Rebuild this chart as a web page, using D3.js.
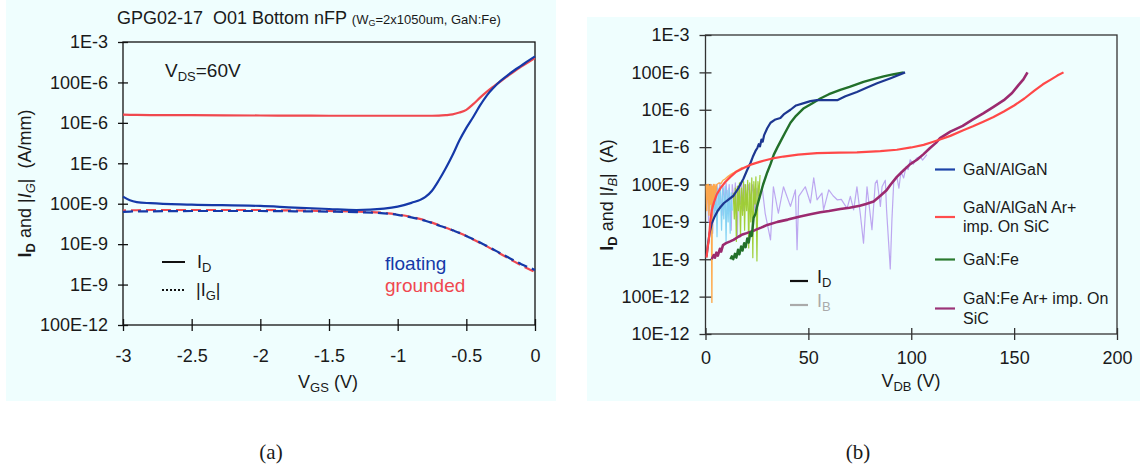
<!DOCTYPE html>
<html>
<head>
<meta charset="utf-8">
<script src="https://cdn.jsdelivr.net/npm/d3@7"></script>
<style>
  body { margin: 0; background: #ffffff; }
  svg text { font-family: "Liberation Sans", Arial, Helvetica, sans-serif; fill: #1a1a1a; }
</style>
</head>
<body>
<svg id="fig" width="1144" height="470"></svg>
<script>
// ---------------- Panel (a): transfer curves, VDS = 60 V ----------------
const vgs = [-3, -2.95, -2.9, -2.8, -2.5, -2.0, -1.75, -1.5, -1.3, -1.1, -1.0, -0.9, -0.8, -0.75, -0.7,
             -0.65, -0.6, -0.55, -0.5, -0.45, -0.4, -0.35, -0.3, -0.25, -0.2, -0.15, -0.1, -0.05, 0];
const idFloating = [1.5e-7, 1.22e-7, 1.1e-7, 1.03e-7, 9.5e-8, 8.8e-8, 8.0e-8, 7.4e-8, 7.0e-8, 7.6e-8, 8.5e-8,
                    1.05e-7, 1.45e-7, 2.1e-7, 3.8e-7, 7.5e-7, 1.6e-6, 3.7e-6, 7.5e-6, 1.4e-5, 2.7e-5, 4.8e-5,
                    7.5e-5, 1.1e-4, 1.5e-4, 2.0e-4, 2.6e-4, 3.4e-4, 4.4e-4];
const idGrounded = [1.6e-5, 1.58e-5, 1.57e-5, 1.56e-5, 1.55e-5, 1.52e-5, 1.51e-5, 1.5e-5, 1.5e-5, 1.5e-5, 1.5e-5,
                    1.5e-5, 1.5e-5, 1.5e-5, 1.51e-5, 1.55e-5, 1.62e-5, 1.8e-5, 2.1e-5, 2.9e-5, 4.2e-5, 5.9e-5,
                    8.0e-5, 1.07e-4, 1.42e-4, 1.88e-4, 2.45e-4, 3.15e-4, 4.0e-4];
const igFloating = [6.3e-8, 6.4e-8, 6.5e-8, 6.5e-8, 6.6e-8, 6.6e-8, 6.5e-8, 6.4e-8, 6.2e-8, 5.8e-8, 5.3e-8,
                    4.6e-8, 3.8e-8, 3.35e-8, 2.9e-8, 2.55e-8, 2.2e-8, 1.9e-8, 1.6e-8, 1.33e-8, 1.1e-8, 9.0e-9,
                    7.3e-9, 5.9e-9, 4.8e-9, 3.9e-9, 3.2e-9, 2.7e-9, 2.3e-9];
const igGrounded = [6.8e-8, 6.9e-8, 6.9e-8, 7.0e-8, 7.0e-8, 7.0e-8, 6.8e-8, 6.6e-8, 6.4e-8, 5.9e-8, 5.4e-8,
                    4.7e-8, 3.9e-8, 3.4e-8, 2.95e-8, 2.55e-8, 2.2e-8, 1.88e-8, 1.58e-8, 1.3e-8, 1.07e-8, 8.8e-9,
                    7.1e-9, 5.7e-9, 4.6e-9, 3.7e-9, 3.0e-9, 2.45e-9, 2.05e-9];
const aXTicks = [-3, -2.5, -2, -1.5, -1, -0.5, 0];
const aXLabels = ["-3", "-2.5", "-2", "-1.5", "-1", "-0.5", "0"];
const aYTicks = [1e-10, 1e-9, 1e-8, 1e-7, 1e-6, 1e-5, 1e-4, 1e-3];
const aYLabels = ["100E-12", "1E-9", "10E-9", "100E-9", "1E-6", "10E-6", "100E-6", "1E-3"];

// ---------------- Panel (b): off-state drain/buffer currents vs VDB ----------------
// [VDB (V), current (A)]
const idAlGaN = [[0.5,1.2e-9],[1.2,2.5e-9],[2.0,5e-9],[3.0,9e-9],[4.5,1.4e-8],[6,2e-8],[7.3,2.5e-8],[9,3.2e-8],
  [11,3.9e-8],[13.6,5e-8],[16,8e-8],[18.5,1.45e-7],[20.2,2.4e-7],[21.8,3.7e-7],[23,5.5e-7],[24.3,7.9e-7],
  [25.2,9.5e-7],[25.9,1.2e-6],[26.5,1.05e-6],[27.2,1.6e-6],[27.8,1.4e-6],[28.5,2.1e-6],[30,3.2e-6],
  [31.6,4.5e-6],[34,5.5e-6],[36.4,6.0e-6],[38,7.5e-6],[41.3,1.0e-5],[44,1.3e-5],[47.8,1.5e-5],[51,1.7e-5],
  [54.2,1.8e-5],[60,1.8e-5],[64,1.8e-5],[68,2.3e-5],[73.6,3.0e-5],[78,3.8e-5],[83.4,5.1e-5],[90,7e-5],[97,1.0e-4]];
const idAlGaNImp = [[0.5,1.1e-9],[1.0,2e-9],[1.6,3.3e-9],[2.0,6e-9],[2.4,1.1e-8],[3.0,2e-8],[4.0,3.2e-8],
  [5.5,5.5e-8],[7.3,8e-8],[9.5,1.15e-7],[12.1,1.6e-7],[15,2.2e-7],[18.5,2.75e-7],[22,3.4e-7],[26.7,4.1e-7],
  [32,4.9e-7],[37.9,5.6e-7],[45,6.3e-7],[54.2,6.9e-7],[65,7.1e-7],[73.6,7.2e-7],[85,7.8e-7],[93,8.5e-7],
  [100,9.8e-7],[106,1.15e-6],[110,1.35e-6],[114,1.6e-6],[119,2.0e-6],[125,2.8e-6],[130,3.6e-6],[135,4.8e-6],
  [140,6.4e-6],[145,9e-6],[150,1.3e-5],[155,2.0e-5],[160,3.3e-5],[164,4.8e-5],[168,6.5e-5],[171,8.2e-5],[174,1.0e-4]];
const idFe = [[12.1,1.0e-9],[12.8,1.2e-9],[13.5,1.0e-9],[14.3,1.4e-9],[15,1.1e-9],[15.8,1.8e-9],[16.5,1.35e-9],
  [17.3,2.2e-9],[18,1.7e-9],[18.8,2.7e-9],[19.5,2.1e-9],[20.3,3.6e-9],[21,2.8e-9],[21.8,5.2e-9],[22.5,4.2e-9],
  [23.4,1.3e-8],[24.2,1.6e-8],[25,2.5e-8],[26.5,5e-8],[28,1.0e-7],[30,2.1e-7],[31.6,3.5e-7],[33.2,6.3e-7],
  [35,1.0e-6],[36.4,1.4e-6],[38.8,2.5e-6],[41.3,4.5e-6],[44,6.9e-6],[47.8,1.1e-5],[52,1.5e-5],[55.8,2.0e-5],
  [60,2.6e-5],[65.5,3.4e-5],[70,4.1e-5],[76.8,5.6e-5],[82,6.7e-5],[86.6,7.8e-5],[91,8.8e-5],[96.3,1.0e-4]];
const idFeImp = [[3.0,1.0e-9],[4.0,1.3e-9],[4.6,1.1e-9],[5.3,1.5e-9],[6,1.25e-9],[7,1.9e-9],[7.6,1.6e-9],
  [8.5,2.4e-9],[10,2.7e-9],[12,3.0e-9],[13.6,3.3e-9],[16,4.0e-9],[18,4.6e-9],[20,5.0e-9],[24,6.0e-9],
  [27,7.0e-9],[30,8.3e-9],[35,1.0e-8],[40,1.15e-8],[46,1.4e-8],[51,1.6e-8],[55.8,1.8e-8],[60,1.95e-8],
  [65.5,2.2e-8],[70,2.4e-8],[75,2.7e-8],[78,3.0e-8],[81.7,3.5e-8],[85,5.0e-8],[88,7.0e-8],[90,1.0e-7],
  [93,1.6e-7],[96.3,2.4e-7],[99.5,3.5e-7],[102.8,4.6e-7],[106,6.5e-7],[109,9.3e-7],[112,1.3e-6],[114,1.74e-6],
  [119,2.6e-6],[125,3.7e-6],[130,5.5e-6],[135,8e-6],[140,1.2e-5],[145,1.8e-5],[149,2.8e-5],[152,4.5e-5],
  [154.5,6.5e-5],[156.5,1.0e-4]];
const ibAlGaN = [[1.5,8e-8],[2,2e-8],[2.6,9e-8],[3.2,5e-9],[3.8,8e-8],[4.5,1.5e-8],[5,9e-8],[5.6,4e-9],
  [6.1,8e-8],[6.7,2e-8],[7.2,9e-8],[7.8,6e-9],[8.3,8e-8],[8.9,1.2e-8],[9.5,9e-8],[10,3e-9],[10.5,7e-8],
  [11,1e-8],[11.5,8e-8],[12,5e-9],[12.5,6e-8],[13,2e-8]];
const ibAlGaNImp = [[0.3,1e-7],[0.6,2e-8],[0.9,1e-7],[1.2,4e-8],[1.4,1e-7],[1.7,1.5e-8],[2.0,9e-8],[2.3,3e-8],
  [2.6,1e-7],[2.9,2.5e-8],[3.1,7e-11],[3.3,9e-8],[3.6,4e-8],[3.9,1e-7],[4.2,3e-8],[4.6,1e-7],[5.0,6e-8],
  [5.5,1.0e-7],[6.5,1.1e-7],[7.5,1.05e-7],[8.5,1.3e-7],[9.5,1.4e-7],[11,1.65e-7],[12.5,1.9e-7],[14,2.1e-7],
  [16,2.45e-7],[18,2.9e-7]];
const ibFe = [[13.5,6e-8],[14,1.2e-8],[14.5,8e-8],[15,3e-9],[15.5,9e-8],[16,2e-8],[16.5,1.1e-7],[17,4e-9],
  [17.5,8e-8],[18,1.5e-8],[18.5,1.2e-7],[19,6e-9],[19.5,1e-7],[20,2e-8],[20.5,1.3e-7],[21,2e-9],[21.5,1.1e-7],
  [22,1e-8],[22.5,1.5e-7],[23,1.1e-9],[23.5,1.2e-7],[24,3e-8],[24.5,1.6e-7],[25,9e-10],[25.5,1.2e-7],
  [26,5e-8],[26.5,1.8e-7]];
const ibFeImp = [[0.5,3e-8],[1,8e-8],[1.5,1e-8],[2,9e-8],[2.5,3e-8],[3,1e-7],[3.5,5e-9],[4,9e-8],[5,2e-8],
  [5.5,1e-7],[6.5,4e-8],[7,1.1e-7],[8,1.5e-8],[8.5,9e-8],[9.5,3e-8],[10,1.1e-7],[11,2e-8],[11.5,1e-7],
  [12.5,6e-9],[13,1e-7],[14,3e-8],[14.5,1.1e-7],[15.5,4e-9],[16,9e-8],[17,3e-8],[17.5,1.1e-7],[18.5,2e-8],
  [19,1e-7],[20,3e-8],[21,1e-7],[22,4e-8],[23,1e-7],[24,2e-8],[25,8e-8],[26,4e-8],[27.5,8.7e-8],[29,1.7e-8],
  [31.6,3.3e-9],[33,8.7e-8],[35.4,1.7e-8],[37.9,8.7e-8],[41.3,2.6e-8],[43.7,7.2e-8],[44.5,1.8e-9],[45.3,4.8e-8],
  [48.5,8.7e-8],[51,3.2e-8],[52.6,1.5e-7],[54.2,3.9e-8],[56.6,5.9e-8],[57.4,2.1e-8],[59.9,7.2e-8],[62,5e-8],
  [64,3.9e-8],[66,4e-8],[68.8,2.3e-8],[70.4,4.8e-8],[72,2.1e-8],[73.6,8.7e-8],[75.2,1.7e-8],[76.8,2.7e-9],
  [78.5,8.7e-8],[80.9,6.2e-9],[82.5,1.07e-7],[83.4,1.3e-7],[85,2.6e-8],[85.8,8.7e-8],[87.4,1.3e-7],[88,2.1e-8],
  [89.8,5.5e-10],[90.6,1.1e-8],[91.5,1.2e-7],[93,1.6e-7],[94,8e-8],[95,2.2e-7],[96.3,1.5e-7],[97.5,3e-7],
  [98.5,2.5e-7],[99.5,4.6e-7],[101,3.5e-7],[102.5,5e-7],[104.4,5.6e-7],[105.5,4.5e-7],[107.6,6.3e-7]];
const bXTicks = [0, 50, 100, 150, 200];
const bXLabels = ["0", "50", "100", "150", "200"];
const bYTicks = [1e-11, 1e-10, 1e-9, 1e-8, 1e-7, 1e-6, 1e-5, 1e-4, 1e-3];
const bYLabels = ["10E-12", "100E-12", "1E-9", "10E-9", "100E-9", "1E-6", "10E-6", "100E-6", "1E-3"];
const bLegend = [
  { lines: ["GaN/AlGaN"], color: "#1d44a8" },
  { lines: ["GaN/AlGaN Ar+", "imp. On SiC"], color: "#ff4d4d" },
  { lines: ["GaN:Fe"], color: "#2b7a2f" },
  { lines: ["GaN:Fe Ar+ imp. On", "SiC"], color: "#9b3478" }
];

const svg = d3.select("#fig");

// Text built from runs: plain, bold, italic and subscript pieces
function richText(g, parts, attrs) {
  const t = g.append("text");
  Object.entries(attrs).forEach(([k, v]) => t.attr(k, v));
  let shift = 0;
  parts.forEach(p => {
    const s = t.append("tspan").text(p.t);
    const want = p.sub || 0;
    if (want !== shift) { s.attr("dy", want - shift); shift = want; }
    if (p.size) s.attr("font-size", p.size);
    if (p.bold) s.attr("font-weight", "bold");
    if (p.italic) s.attr("font-style", "italic");
    if (p.fill) s.style("fill", p.fill);
  });
  return t;
}

// Backgrounds of the two panels
svg.append("rect").attr("x", 6).attr("y", 0).attr("width", 550).attr("height", 401).attr("fill", "#effefe");
svg.append("rect").attr("x", 587).attr("y", 17).attr("width", 553).attr("height", 384).attr("fill", "#effefe");

// ======================= Panel (a) =======================
const ga = svg.append("g");
const xa = d3.scaleLinear().domain([-3, 0]).range([123, 535]);
const ya = d3.scaleLog().domain([1e-10, 1e-3]).range([325, 42]);

ga.append("rect").attr("x", 123).attr("y", 42).attr("width", 412).attr("height", 283)
  .attr("fill", "none").attr("stroke", "#111").attr("stroke-width", 1.3);

const axA = ga.append("g").attr("transform", "translate(123,0)")
  .call(d3.axisLeft(ya).tickValues(aYTicks).tickFormat((d, i) => aYLabels[i]).tickSize(5).tickPadding(10));
axA.select(".domain").remove();
axA.selectAll(".tick line").attr("x1", -5).attr("x2", 5).attr("stroke", "#111").attr("stroke-width", 1.3);
axA.selectAll(".tick text").attr("x", -15).attr("font-size", 18).attr("font-family", null);

const axAx = ga.append("g").attr("transform", "translate(0,325)")
  .call(d3.axisBottom(xa).tickValues(aXTicks).tickFormat((d, i) => aXLabels[i]).tickSize(6));
axAx.select(".domain").remove();
axAx.selectAll(".tick line").attr("y1", -6).attr("y2", 6).attr("stroke", "#111").attr("stroke-width", 1.3);
axAx.selectAll(".tick text").attr("y", 24).attr("font-size", 18).attr("font-family", null);

const lineA = arr => d3.line().x((d, i) => xa(vgs[i])).y(d => ya(d)).curve(d3.curveMonotoneX)(arr);
const blueA = "#1539a8", redA = "#f0484f";
ga.append("path").attr("d", lineA(igGrounded)).attr("fill", "none").attr("stroke", redA)
  .attr("stroke-width", 2.2).attr("stroke-dasharray", "10,5").attr("stroke-dashoffset", 7);
ga.append("path").attr("d", lineA(igFloating)).attr("fill", "none").attr("stroke", blueA)
  .attr("stroke-width", 2.2).attr("stroke-dasharray", "10,5");
ga.append("path").attr("d", lineA(idGrounded)).attr("fill", "none").attr("stroke", redA).attr("stroke-width", 2.2);
ga.append("path").attr("d", lineA(idFloating)).attr("fill", "none").attr("stroke", blueA).attr("stroke-width", 2.2);

// Title and annotations
const title = ga.append("text").attr("x", 117).attr("y", 24).attr("font-size", 18).style("white-space", "pre");
title.append("tspan").text("GPG02-17  O01 Bottom nFP ");
title.append("tspan").attr("font-size", 13).text("(W");
title.append("tspan").attr("font-size", 9).attr("dy", 2).text("G");
title.append("tspan").attr("font-size", 13).attr("dy", -2).text("=2x1050um, GaN:Fe)");

richText(ga, [{ t: "V" }, { t: "DS", size: 13, sub: 4 }, { t: "=60V" }],
  { x: 165, y: 77, "font-size": 19 });

richText(ga, [{ t: "V" }, { t: "GS", size: 13, sub: 4 }, { t: " (V)" }],
  { x: 328, y: 388, "font-size": 18, "text-anchor": "middle" });

richText(ga, [{ t: "I", bold: true }, { t: "D", bold: true, size: 13, sub: 4 }, { t: " and |" },
  { t: "I", italic: true }, { t: "G", italic: true, size: 13, sub: 4 }, { t: "|  (A/mm)" }],
  { transform: "translate(31,183.5) rotate(-90)", "font-size": 18, "text-anchor": "middle" }).style("white-space", "pre");

// Line-style key
ga.append("line").attr("x1", 162).attr("x2", 185).attr("y1", 262).attr("y2", 262).attr("stroke", "#111").attr("stroke-width", 2);
ga.append("line").attr("x1", 162).attr("x2", 185).attr("y1", 290).attr("y2", 290).attr("stroke", "#111")
  .attr("stroke-width", 1.8).attr("stroke-dasharray", "2,2");
richText(ga, [{ t: "I" }, { t: "D", size: 13, sub: 4 }], { x: 197, y: 268, "font-size": 18 });
richText(ga, [{ t: "|I" }, { t: "G", size: 13, sub: 4 }, { t: "|" }], { x: 196, y: 296, "font-size": 18 });
ga.append("text").attr("x", 385).attr("y", 270).attr("font-size", 19).style("fill", blueA).text("floating");
ga.append("text").attr("x", 385).attr("y", 292).attr("font-size", 19).style("fill", redA).text("grounded");

// ======================= Panel (b) =======================
const gb = svg.append("g");
const xb = d3.scaleLinear().domain([0, 200]).range([705.5, 1117]);
const yb = d3.scaleLog().domain([1e-11, 1e-3]).range([334, 35]);

gb.append("rect").attr("x", 705.5).attr("y", 35).attr("width", 411.5).attr("height", 299)
  .attr("fill", "none").attr("stroke", "#333").attr("stroke-width", 1.3);

const axB = gb.append("g").attr("transform", "translate(705.5,0)")
  .call(d3.axisLeft(yb).tickValues(bYTicks).tickFormat((d, i) => bYLabels[i]).tickSize(6));
axB.select(".domain").remove();
axB.selectAll(".tick line").attr("x1", -6).attr("x2", 6).attr("stroke", "#333").attr("stroke-width", 1.3);
axB.selectAll(".tick text").attr("x", -16).attr("font-size", 18).attr("font-family", null);

const axBx = gb.append("g").attr("transform", "translate(0,334)")
  .call(d3.axisBottom(xb).tickValues(bXTicks).tickFormat((d, i) => bXLabels[i]).tickSize(6));
axBx.select(".domain").remove();
axBx.selectAll(".tick line").attr("y1", -6).attr("y2", 6).attr("stroke", "#333").attr("stroke-width", 1.3);
axBx.selectAll(".tick text").attr("y", 17).attr("font-size", 18).attr("font-family", null);

const lineB = d3.line().x(d => xb(d[0])).y(d => yb(d[1]));
const drawB = (data, color, width, opacity) =>
  gb.append("path").attr("d", lineB(data)).attr("fill", "none").attr("stroke", color)
    .attr("stroke-width", width).attr("stroke-opacity", opacity).attr("stroke-linejoin", "round");

// buffer currents (thin, pale) below the drain currents
drawB(ibFeImp, "#b9a2ef", 1.2, 0.95);
drawB(ibFe, "#9ccc2e", 1.2, 0.95);
drawB(ibAlGaN, "#7fd0f2", 1.2, 0.95);
drawB(ibAlGaNImp, "#ffa545", 1.4, 0.95);
drawB(idFeImp, "#9b2a6f", 2.6, 1);
drawB(idFe, "#22702a", 2.4, 1);
drawB(idAlGaN, "#1d3791", 2.2, 1);
drawB(idAlGaNImp, "#ff4848", 2.2, 1);

richText(gb, [{ t: "V" }, { t: "DB", size: 13, sub: 4 }, { t: " (V)" }],
  { x: 911, y: 387, "font-size": 18, "text-anchor": "middle" });
richText(gb, [{ t: "I", bold: true }, { t: "D", bold: true, size: 13, sub: 4 }, { t: " and |" },
  { t: "I", italic: true }, { t: "B", italic: true, size: 13, sub: 4 }, { t: "|  (A)" }],
  { transform: "translate(613,195) rotate(-90)", "font-size": 18, "text-anchor": "middle" }).style("white-space", "pre");

// I_D / I_B key
gb.append("line").attr("x1", 790).attr("x2", 808).attr("y1", 281).attr("y2", 281).attr("stroke", "#111").attr("stroke-width", 2.2);
gb.append("line").attr("x1", 790).attr("x2", 808).attr("y1", 305).attr("y2", 305).attr("stroke", "#aaaaaa").attr("stroke-width", 2.2);
richText(gb, [{ t: "I" }, { t: "D", size: 13, sub: 4 }], { x: 817, y: 283, "font-size": 18 });
richText(gb, [{ t: "I", fill: "#aaaaaa" }, { t: "B", size: 13, sub: 4, fill: "#aaaaaa" }], { x: 817, y: 307, "font-size": 18 });

// sample legend
const legY = [169.5, 217, 259.5, 308.5];
bLegend.forEach((e, i) => {
  gb.append("line").attr("x1", 935).attr("x2", 955).attr("y1", legY[i]).attr("y2", legY[i])
    .attr("stroke", e.color).attr("stroke-width", 2.2);
  const n = e.lines.length;
  e.lines.forEach((s, j) => {
    gb.append("text").attr("x", 963).attr("y", legY[i] + 5.5 + (j - (n - 1) / 2) * 19.5)
      .attr("font-size", 16).text(s);
  });
});

// Sub-figure captions
svg.append("text").attr("x", 271).attr("y", 459).attr("text-anchor", "middle")
  .style("font-family", "'Liberation Serif', 'DejaVu Serif', serif").attr("font-size", 21).text("(a)");
svg.append("text").attr("x", 858).attr("y", 459).attr("text-anchor", "middle")
  .style("font-family", "'Liberation Serif', 'DejaVu Serif', serif").attr("font-size", 21).text("(b)");
</script>
</body>
</html>
